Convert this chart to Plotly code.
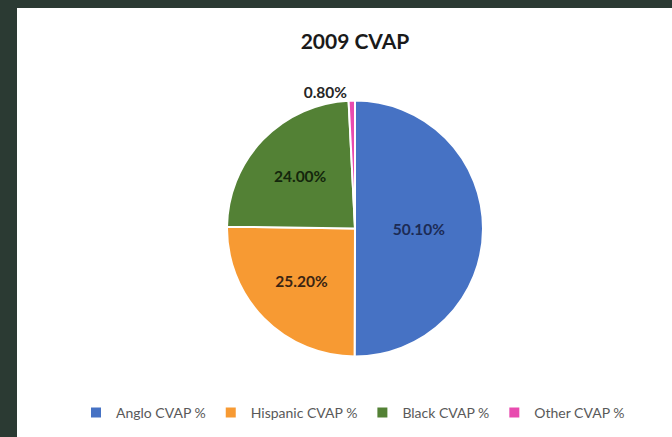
import plotly.graph_objects as go

categories = ["Anglo CVAP %", "Hispanic CVAP %", "Black CVAP %", "Other CVAP %"]
values = [50.1, 25.2, 24.0, 0.8]
colors = ["#4672C4", "#F79A33", "#538135", "#E84BAF"]
text_colors = ["#1C2B55", "#3A2412", "#14260C", "#262626"]
text_positions = ["inside", "inside", "inside", "outside"]

W, H = 672, 437
l, r, t, b = 17, 0, 8, 0
pw, ph = W - l - r, H - t - b


def px_x(x):
    return (x - l) / pw


def px_y(y):
    return 1 - (y - t) / ph


fig = go.Figure(go.Pie(
    labels=categories,
    values=values,
    sort=False,
    direction="clockwise",
    rotation=0,
    domain=dict(x=[px_x(227), px_x(483)], y=[px_y(357), px_y(100)]),
    marker=dict(colors=colors, line=dict(color="white", width=2)),
    texttemplate="%{value:.2f}%",
    textposition=text_positions,
    insidetextorientation="horizontal",
    textfont=dict(family="Lato", size=15.5, color=text_colors, weight="bold"),
    outsidetextfont=dict(family="Lato", size=15.5, color="#262626", weight="bold"),
    hoverinfo="label+value",
))

fig.update_layout(
    width=W, height=H,
    margin=dict(l=l, r=r, t=t, b=b, autoexpand=False),
    paper_bgcolor="#2B3A33",
    plot_bgcolor="white",
    title=dict(text="<b>2009 CVAP</b>", x=px_x(355), xref="paper", xanchor="center",
               y=1 - 42 / H, yref="container", yanchor="middle",
               font=dict(family="Lato", size=21, color="#1A1A1A")),
    legend=dict(orientation="h", x=px_x(353), xanchor="center", xref="paper",
                y=px_y(413), yref="paper", yanchor="middle",
                font=dict(family="Lato", size=14, color="#595959"),
                itemwidth=30, bgcolor="rgba(0,0,0,0)"),
    shapes=[dict(type="rect", xref="paper", yref="paper", layer="below",
                 x0=0, x1=1.02, y0=-0.02, y1=1,
                 fillcolor="white", line=dict(width=0))],
)

fig.write_html("out.html", config={"displayModeBar": False},
               post_script="document.body.style.margin='0';")
